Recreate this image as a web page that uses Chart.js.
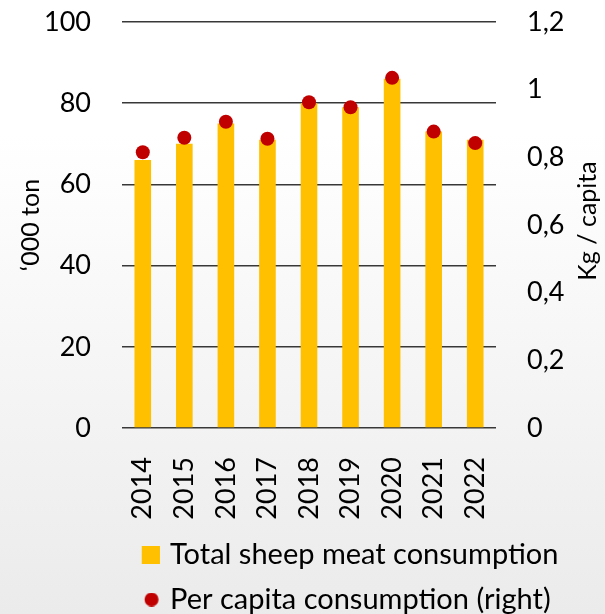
<!DOCTYPE html>
<html>
<head>
<meta charset="utf-8">
<script src="https://cdn.jsdelivr.net/npm/chart.js@4.4.1/dist/chart.umd.min.js"></script>
<style>
    html, body {
        margin: 0;
        padding: 0;
        overflow: hidden;
        background: linear-gradient(to bottom, #ffffff 0%, #ffffff 22%, #ebebeb 100%);
        height: 614px;
    }
    #wrap {
        width: 605px;
        height: 624px;
    }
</style>
</head>
<body>
<div id="wrap"><canvas id="sheepChart"></canvas></div>
<script>
const years = ['2014', '2015', '2016', '2017', '2018', '2019', '2020', '2021', '2022'];
const totalConsumption = [66, 70, 75, 71, 80, 79, 86, 73, 71];
const perCapita = [0.815, 0.858, 0.905, 0.855, 0.963, 0.948, 1.035, 0.876, 0.842];
const leftTicks = ['0', '20', '40', '60', '80', '100'];
const rightTicks = ['0', '0,2', '0,4', '0,6', '0,8', '1', '1,2'];

const FONT = 'Lato, "Open Sans", sans-serif';
const BAR_COLOR = '#FFC000';
const DOT_COLOR = '#C00000';

// small canvases used as legend markers
function makeMark(w, h, draw) {
    const c = document.createElement('canvas');
    c.width = w;
    c.height = h;
    draw(c.getContext('2d'));
    return c;
}
const squareMark = makeMark(26, 18, ctx => {
    ctx.fillStyle = BAR_COLOR;
    ctx.fillRect(8, 0, 18, 18);
});
const dotMark = makeMark(26, 14, ctx => {
    ctx.fillStyle = DOT_COLOR;
    ctx.beginPath();
    ctx.arc(17.8, 7, 7, 0, Math.PI * 2);
    ctx.fill();
});

// both axis titles read bottom-to-top, drawn here
function drawTitle(ctx, text, x, y) {
    ctx.save();
    ctx.translate(x, y);
    ctx.rotate(-Math.PI / 2);
    ctx.font = '25px ' + FONT;
    ctx.fillStyle = '#000';
    ctx.textAlign = 'center';
    ctx.textBaseline = 'middle';
    ctx.fillText(text, 0, 0);
    ctx.restore();
}
const axisTitles = {
    id: 'axisTitles',
    afterLayout(chart) {
        // legend sits under the plot but its text runs past the plot's right edge
        chart.legend.right = chart.width;
    },
    afterDraw(chart) {
        const mid = (chart.chartArea.top + chart.chartArea.bottom) / 2;
        drawTitle(chart.ctx, '‘000 ton', 31, mid);
        drawTitle(chart.ctx, 'Kg / capita', 588, mid - 4);
    }
};

function noEdgePadding(scale) {
    scale.paddingTop = 0;
    scale.paddingBottom = 0;
}

new Chart(document.getElementById('sheepChart'), {
    type: 'bar',
    data: {
        labels: years,
        datasets: [{
            label: 'Total sheep meat consumption',
            data: totalConsumption,
            backgroundColor: BAR_COLOR,
            barPercentage: 0.4,
            categoryPercentage: 1,
            yAxisID: 'y',
            order: 2
        }, {
            type: 'line',
            label: 'Per capita consumption (right)',
            data: perCapita,
            showLine: false,
            pointRadius: 7,
            pointHoverRadius: 7,
            pointBorderWidth: 0,
            pointBackgroundColor: DOT_COLOR,
            borderColor: DOT_COLOR,
            yAxisID: 'y1',
            order: 1
        }]
    },
    options: {
        responsive: true,
        maintainAspectRatio: false,
        animation: false,
        events: [],
        layout: { padding: { top: 22, left: 0, right: 0, bottom: 0 } },
        font: { family: FONT },
        scales: {
            x: {
                grid: { display: false },
                border: { display: false },
                ticks: {
                    color: '#000',
                    font: { family: FONT, size: 27 },
                    minRotation: 90,
                    maxRotation: 90,
                    autoSkip: false,
                    padding: 21
                },
                afterFit(scale) { scale.height = 96; }
            },
            y: {
                position: 'left',
                min: 0,
                max: 100,
                ticks: {
                    stepSize: 20,
                    color: '#000',
                    font: { family: FONT, size: 27 },
                    padding: 31,
                    callback: (v, i) => leftTicks[i]
                },
                grid: { color: '#383838', lineWidth: 1.5, drawTicks: false },
                border: { display: false },
                afterFit(scale) {
                    scale.width = 122;
                    noEdgePadding(scale);
                }
            },
            y1: {
                position: 'right',
                min: 0,
                max: 1.2,
                ticks: {
                    stepSize: 0.2,
                    color: '#000',
                    font: { family: FONT, size: 27 },
                    padding: 31,
                    callback: (v, i) => rightTicks[i]
                },
                grid: { display: false, drawTicks: false },
                border: { display: false },
                afterFit(scale) {
                    scale.width = 109;
                    noEdgePadding(scale);
                }
            }
        },
        plugins: {
            tooltip: { enabled: false },
            legend: {
                position: 'bottom',
                fullSize: false,
                align: 'start',
                labels: {
                    color: '#000',
                    font: { family: FONT, size: 29 },
                    padding: 16,
                    boxWidth: 17.5,
                    usePointStyle: true,
                    sort: (a, b) => a.datasetIndex - b.datasetIndex,
                    generateLabels(chart) {
                        const items = Chart.defaults.plugins.legend.labels.generateLabels(chart);
                        items.forEach(item => {
                            item.pointStyle = item.datasetIndex === 0 ? squareMark : dotMark;
                        });
                        return items;
                    }
                }
            }
        }
    },
    plugins: [axisTitles]
});
</script>
</body>
</html>
